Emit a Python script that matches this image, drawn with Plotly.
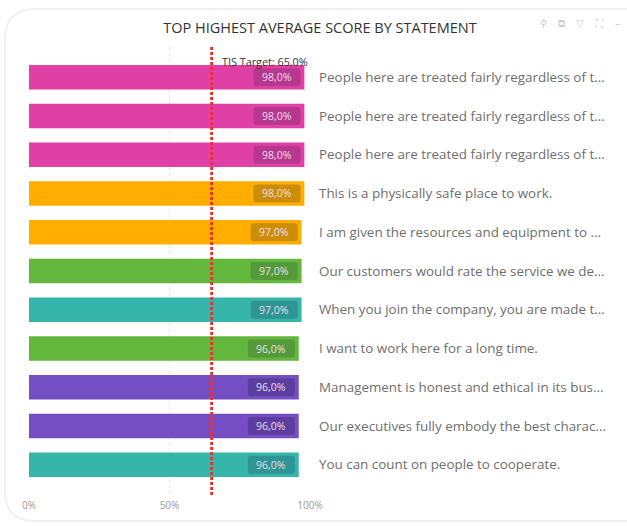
import plotly.graph_objects as go

statements = [
    "People here are treated fairly regardless of t...",
    "People here are treated fairly regardless of t...",
    "People here are treated fairly regardless of t...",
    "This is a physically safe place to work.",
    "I am given the resources and equipment to ...",
    "Our customers would rate the service we de...",
    "When you join the company, you are made t...",
    "I want to work here for a long time.",
    "Management is honest and ethical in its bus...",
    "Our executives fully embody the best charac...",
    "You can count on people to cooperate.",
]
scores = [98, 98, 98, 98, 97, 97, 97, 96, 96, 96, 96]
score_labels = ["98,0%", "98,0%", "98,0%", "98,0%", "97,0%", "97,0%", "97,0%", "96,0%", "96,0%", "96,0%", "96,0%"]
bar_colors = ["#E040A5", "#E040A5", "#E040A5", "#FFAE00", "#FFAE00", "#62B73C", "#36B5AA",
              "#62B73C", "#744EC2", "#744EC2", "#36B5AA"]
label_bg = ["#B8388F", "#B8388F", "#B8388F", "#CC8E0A", "#CC8E0A", "#559A3A", "#2F9494",
            "#559A3A", "#5C3EA0", "#5C3EA0", "#2F9494"]
target = 65
target_label = "TIS Target: 65,0%"
title = "TOP HIGHEST AVERAGE SCORE BY STATEMENT"
x_ticks = [0, 50, 100]
x_tick_labels = ["0%", "50%", "100%"]
toolbar_icons = ["⚲", "⧉", "▽", "⛶", "–"]
positions = list(range(len(statements)))
FONT = "Open Sans, Noto Sans, sans-serif"

W, H = 627, 526
L, R, T, B = 29, 317, 47, 31
px_x = 100 / (W - L - R)
y_span = 11.56
px_y = y_span / (H - T - B)


def pad_path(xr, yc, w=47, h=18, r=3):
    x0, x1 = xr - w * px_x, xr
    y0, y1 = yc - h / 2 * px_y, yc + h / 2 * px_y
    rx, ry = r * px_x, r * px_y
    return (f"M {x0+rx} {y0} L {x1-rx} {y0} Q {x1} {y0} {x1} {y0+ry} L {x1} {y1-ry} Q {x1} {y1} {x1-rx} {y1} "
            f"L {x0+rx} {y1} Q {x0} {y1} {x0} {y1-ry} L {x0} {y0+ry} Q {x0} {y0} {x0+rx} {y0} Z")


fig = go.Figure()
fig.add_trace(go.Bar(
    x=scores, y=positions, orientation="h", width=0.63,
    marker=dict(color=bar_colors, line=dict(width=0)), hoverinfo="skip", showlegend=False,
))
fig.add_trace(go.Scatter(
    x=[target, target], y=[-0.78, 10.78], mode="lines",
    line=dict(color="#F2302A", width=3, dash="3px,2px"), hoverinfo="skip", showlegend=False,
))
for v, s, bg, p in zip(scores, score_labels, label_bg, positions):
    fig.add_shape(type="path", xref="x", yref="y", layer="above", path=pad_path(v - 1.4, p),
                  fillcolor=bg, line=dict(width=0))
    fig.add_annotation(x=v - 1.4 - 23.5 * px_x, y=p, text=s, showarrow=False, xanchor="center", xref="x", yref="y",
                       font=dict(family=FONT, size=10.5, color="#EADFEA"))
fig.add_annotation(x=target + 2.9, y=-0.41, text=target_label, showarrow=False, xanchor="left", yanchor="middle",
                   font=dict(family=FONT, size=10.8, color="#333333"))

# card outline
CL, CT, CB = (5 - L) / (W - L - R), 1 + (T - 9) / (H - T - B), (H - B - 521) / (H - T - B)
CR = (W - L) / (W - L - R)
rx, ry = 30 / (W - L - R), 30 / (H - T - B)
fig.add_shape(type="path", xref="paper", yref="paper", layer="below",
              path=f"M {CR} {CT} L {CL+rx} {CT} Q {CL} {CT} {CL} {CT-ry} L {CL} {CB+ry} Q {CL} {CB} {CL+rx} {CB} L {CR} {CB}",
              line=dict(color="#F1F1F1", width=2))

for xp, icon in zip([549, 567, 586, 606, 622], toolbar_icons):
    fig.add_annotation(xref="paper", yref="paper", x=(xp - L) / (W - L - R), y=1 + (T - 16) / (H - T - B),
                       text=icon, showarrow=False, font=dict(family="DejaVu Sans", size=10, color="#C8C8C8"))

fig.update_layout(
    width=W, height=H, autosize=False,
    margin=dict(l=L, r=R, t=T, b=B),
    paper_bgcolor="white", plot_bgcolor="white",
    barmode="overlay", showlegend=False,
    font=dict(family=FONT),
    title=dict(text=title, x=320 / W, xanchor="center", y=1 - 28 / H, yanchor="middle",
               font=dict(family=FONT, size=14.5, color="#333333")),
    xaxis=dict(range=[0, 100], tickvals=x_ticks, ticktext=x_tick_labels, showgrid=True,
               gridcolor="#E6E6E6", griddash="dot", gridwidth=1, zeroline=False, showline=False,
               ticks="", tickfont=dict(family=FONT, size=10, color="#9A9A9A"), ticklabelstandoff=3),
    yaxis=dict(range=[10.78, -0.78], side="right", tickvals=positions, ticktext=statements,
               showgrid=False, zeroline=False, showline=False, ticks="",
               tickfont=dict(family=FONT, size=13.4, color="#6E6E6E"), ticklabelstandoff=8),
)
fig.write_html("out.html", post_script="document.body.style.margin='0';",
               config={"displayModeBar": False})
